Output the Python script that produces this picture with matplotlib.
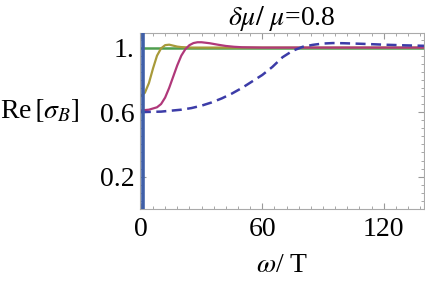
"""Re[sigma_B] vs omega/T, delta mu / mu = 0.8."""
import matplotlib
matplotlib.use("Agg")
import matplotlib.pyplot as plt
from matplotlib.ticker import MultipleLocator, FixedLocator

plt.rcParams["font.family"] = ["Liberation Serif", "DejaVu Serif"]
plt.rcParams["mathtext.fontset"] = "stix"

# olive curve
x_olive = [0, 2, 4, 6, 8, 10, 12, 14, 16, 18, 20, 25, 30, 40, 140]
y_olive = [0.70, 0.72, 0.78, 0.87, 0.95, 0.995, 1.015, 1.018, 1.012, 1.006,
           1.003, 1.0, 1.0, 1.0, 1.0]

# magenta curve
x_mag = [0, 4, 8, 10, 12, 14, 16, 18, 20, 22, 24, 26, 28, 30, 34, 38, 42,
         46, 50, 60, 140]
y_mag = [0.61, 0.615, 0.63, 0.65, 0.69, 0.75, 0.82, 0.89, 0.95, 0.99, 1.015,
         1.028, 1.033, 1.033, 1.027, 1.018, 1.01, 1.005, 1.002, 1.0, 1.0]

# dashed curve
x_dash = [0, 10, 20, 25, 30, 35, 40, 45, 50, 55, 60, 65, 70, 75, 80, 85, 90,
          95, 100, 110, 120, 130, 140]
y_dash = [0.60, 0.603, 0.615, 0.625, 0.64, 0.66, 0.685, 0.715, 0.75, 0.79,
          0.83, 0.88, 0.94, 0.98, 1.005, 1.017, 1.025, 1.028, 1.027, 1.023,
          1.018, 1.014, 1.011]

x_spike = 1.0      # narrow peak at omega ~ 0
y_flat = 1.0       # green reference level

xticks = [0, 60, 120]
yticks = [0.2, 0.6, 1.0]
ytick_labels = ["0.2", "0.6", "1."]

fig = plt.figure(figsize=(4.25, 2.85), dpi=100)
ax = fig.add_axes([0.329, 0.267, 0.669, 0.617])

ax.axvline(x_spike, color="#3f5fa8", lw=2.6, zorder=3)
ax.axhline(y_flat, color="#4f9e4f", lw=1.8, zorder=2)
ax.plot(x_olive, y_olive, color="#a89a3a", lw=1.6, zorder=2)
ax.plot(x_mag, y_mag, color="#b0387a", lw=1.6, zorder=2)
ax.plot(x_dash, y_dash, color="#3c3ca8", lw=1.8, ls=(0, (4, 2.2)), zorder=2)

ax.set_xlim(-0.5, 140)
ax.set_ylim(0, 1.09)
ax.xaxis.set_major_locator(FixedLocator(xticks))
ax.yaxis.set_major_locator(FixedLocator(yticks))
ax.set_yticklabels(ytick_labels)
ax.xaxis.set_minor_locator(MultipleLocator(6))
ax.yaxis.set_minor_locator(MultipleLocator(0.05))
ax.tick_params(which="both", direction="in", top=True, right=True,
               colors="#999999", labelcolor="black", labelsize=20)
ax.tick_params(axis="x", pad=6)
ax.tick_params(axis="y", pad=4)
ax.tick_params(which="major", length=4)
ax.tick_params(which="minor", length=2)
for s in ax.spines.values():
    s.set_color("#aaaaaa")
    s.set_linewidth(0.8)

ax.set_title(r"$\delta\mu/\ \mu$=0.8", fontsize=20, pad=1)
ax.set_xlabel(r"$\omega$/ T", fontsize=20, labelpad=8)
fig.text(0.0, 0.61, r"Re$\,[\sigma_B]$", fontsize=20, ha="left", va="center")

fig.savefig("out.png", dpi=100, facecolor="white")
